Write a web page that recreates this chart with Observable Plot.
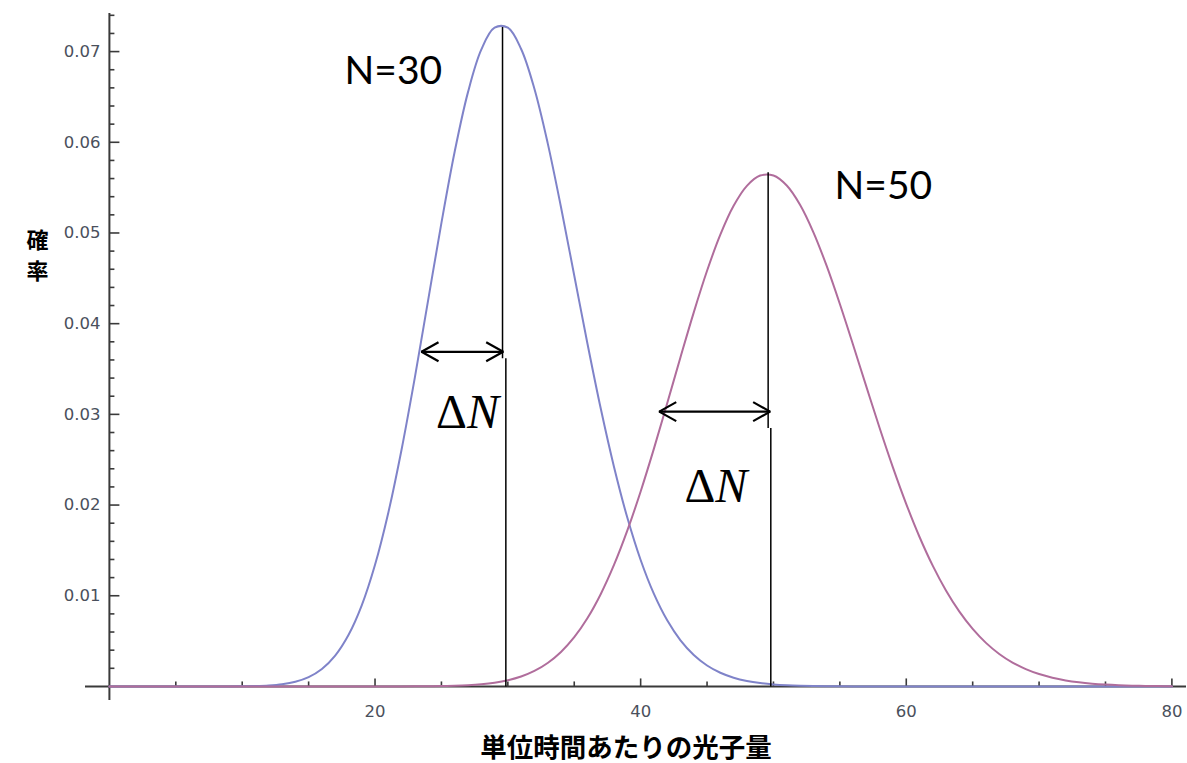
<!DOCTYPE html>
<html><head><meta charset="utf-8">
<script src="https://cdn.jsdelivr.net/npm/d3@7"></script>
<script src="https://cdn.jsdelivr.net/npm/@observablehq/plot@0.6"></script>
<style>body{margin:0;background:#fff} #chart svg{display:block}</style>
</head><body><div id="chart"></div>
<script>
// ---- data ----
const photonCount = d3.range(0, 81); // 単位時間あたりの光子量 (0..80)
const probN30 = [
  0,0,0,0,0,0,0,0,
  0.0000016,0.0000051,0.0000152,0.0000415,0.000104,0.000240,0.000513,0.001027,0.001925,0.003398,0.005663,0.00894,
  0.01341,0.01916,0.02613,0.03408,0.04260,0.05111,0.05898,0.06553,0.07021,0.07263,
  0.07263,0.07029,0.06590,0.05991,0.05286,0.04531,0.03776,0.03061,0.02417,0.01859,
  0.01394,0.01020,0.007288,0.005085,0.003467,0.002311,0.001507,0.000962,0.000601,0.000368,
  0.000221,0.000130,0.0000750,0.0000425,0.0000236,0.0000129,0.0000069,0.0000036,0.0000019,0.0000010,
  0,0,0,0,0,0,0,0,0,0,0,0,0,0,0,0,0,0,0,0,0
];
const probN50 = [
  0,0,0,0,0,0,0,0,0,0,0,0,0,0,0,0,0,0,0,0,
  0.0000008,0.0000018,0.0000041,0.0000089,0.0000185,0.0000370,0.0000711,0.000132,0.000236,0.000406,
  0.000677,0.001092,0.001707,0.002586,0.003803,0.005433,0.007546,0.01020,0.01342,0.01720,
  0.02150,0.02622,0.03122,0.03630,0.04125,0.04583,0.04982,0.05300,0.05520,0.05633,
  0.05633,0.05523,0.05311,0.05010,0.04639,0.04217,0.03765,0.03303,0.02847,0.02413,
  0.02011,0.01648,0.01329,0.01055,0.008242,0.006340,0.004803,0.003584,0.002635,0.001910,
  0.001364,0.000961,0.000667,0.000457,0.000309,0.000206,0.000135,0.0000879,0.0000564,0.0000357,0.0000223
];
const seriesNames = ["N=30", "N=50"];
const seriesColors = ["#7f83c9", "#b06d9c"];
const xTickLabels = [20, 40, 60, 80];
const xMinorTicks = [5, 10, 15, 25, 30, 35, 45, 50, 55, 65, 70, 75];
const yTickLabels = [0.01, 0.02, 0.03, 0.04, 0.05, 0.06, 0.07];
const yMinorTicks = [0.002,0.004,0.006,0.008,0.012,0.014,0.016,0.018,0.022,0.024,0.026,0.028,
  0.032,0.034,0.036,0.038,0.042,0.044,0.046,0.048,0.052,0.054,0.056,0.058,
  0.062,0.064,0.066,0.068,0.072,0.074];
// annotations (data coordinates)
const nLabelX = [17.7, 54.6];
const nLabelY = [0.0664, 0.0538];
const meanUpperX = [29.6, 49.6];
const meanUpperTop = [0.0727, 0.0567];
const meanBreakY = [0.0362, 0.0285];
const meanLowerX = [29.85, 49.8];
const arrowStartX = [23.5, 41.4];
const arrowEndX = [29.65, 49.75];
const arrowY = [0.0369, 0.0303];
const deltaLabelX = [24.6, 43.3];
const deltaLabelY = [0.02845, 0.0203];
const xTitle = "単位時間あたりの光子量";
const yTitleChars = ["確", "率"];
const yTitleY = [0.0491, 0.0457];

// ---- tables ----
const curves = seriesNames.flatMap((name, s) =>
  photonCount.map((x, i) => ({x, y: (s === 0 ? probN30 : probN50)[i], series: name})));
const ann = seriesNames.map((name, i) => ({
  name, lx: nLabelX[i], ly: nLabelY[i],
  ux: meanUpperX[i], uTop: meanUpperTop[i], brk: meanBreakY[i], lx2: meanLowerX[i],
  ax1: arrowStartX[i], ax2: arrowEndX[i], ay: arrowY[i],
  dx: deltaLabelX[i], dy: deltaLabelY[i]
}));
const yTitleRows = yTitleChars.map((c, i) => ({c, y: yTitleY[i]}));

const hTick = (L) => ({draw(ctx) { ctx.moveTo(0, 0); ctx.lineTo(L, 0); }});
const vTick = (L) => ({draw(ctx) { ctx.moveTo(0, 0); ctx.lineTo(0, -L); }});
function arrowHead(color) {
  const m = d3.create("svg:marker")
    .attr("viewBox", "-20 -12 22 24")
    .attr("markerUnits", "userSpaceOnUse")
    .attr("markerWidth", 22).attr("markerHeight", 24)
    .attr("orient", "auto-start-reverse")
    .attr("overflow", "visible");
  m.append("path").attr("d", "M-17,-9.5L0,0L-17,9.5")
    .attr("fill", "none").attr("stroke", color).attr("stroke-width", 2.2);
  return m.node();
}
const axisColor = "#3a3a3a";
const labelColor = "#4a505c";

const chart = Plot.plot({
  width: 1187, height: 763,
  marginLeft: 85, marginRight: 1, marginTop: 13, marginBottom: 63,
  style: {background: "white", overflow: "visible"},
  x: {domain: [-1.8, 81.1], axis: null},
  y: {domain: [-0.00155, 0.0742], axis: null},
  color: {domain: seriesNames, range: seriesColors},
  marks: [
    // axes
    Plot.ruleX([0], {stroke: axisColor, strokeWidth: 2}),
    Plot.ruleY([0], {stroke: axisColor, strokeWidth: 2}),
    Plot.dot(yTickLabels, {x: 0, y: d => d, symbol: hTick(10), fill: "none", stroke: axisColor, strokeWidth: 1.6}),
    Plot.dot(yMinorTicks, {x: 0, y: d => d, symbol: hTick(5), fill: "none", stroke: axisColor, strokeWidth: 1.6}),
    Plot.dot(xTickLabels, {x: d => d, y: 0, symbol: vTick(8), fill: "none", stroke: axisColor, strokeWidth: 1.6}),
    Plot.dot(xMinorTicks, {x: d => d, y: 0, symbol: vTick(5), fill: "none", stroke: axisColor, strokeWidth: 1.6}),
    Plot.text(yTickLabels, {x: 0, y: d => d, text: d => d.toFixed(2), dx: -9, textAnchor: "end", lineAnchor: "middle",
      fontFamily: "DejaVu Sans", fontSize: 16.5, fill: labelColor}),
    Plot.text(xTickLabels, {x: d => d, y: 0, text: d => String(d), dy: 25, textAnchor: "middle", lineAnchor: "middle",
      fontFamily: "DejaVu Sans", fontSize: 16.5, fill: labelColor}),
    // axis titles
    Plot.text([xTitle], {x: 38.9, frameAnchor: "bottom", dy: 48, text: d => d, fontFamily: "Noto Sans CJK JP",
      fontWeight: "bold", fontSize: 26.5, fill: "black", lineAnchor: "middle"}),
    Plot.text(yTitleRows, {y: "y", frameAnchor: "left", dx: -59, text: "c", fontFamily: "Noto Sans CJK JP",
      fontWeight: "bold", fontSize: 22, fill: "black", lineAnchor: "middle"}),
    // curves
    Plot.line(curves, {x: "x", y: "y", z: "series", stroke: "series", strokeWidth: 2, curve: "catmull-rom"}),
    // mean lines
    Plot.link(ann, {x1: "ux", x2: "ux", y1: "uTop", y2: "brk", stroke: "black", strokeWidth: 1.5}),
    Plot.link(ann, {x1: "lx2", x2: "lx2", y1: "brk", y2: () => 0, stroke: "black", strokeWidth: 1.5}),
    // double arrows
    Plot.link(ann, {x1: "ax1", x2: "ax2", y1: "ay", y2: "ay", stroke: "black", strokeWidth: 2.2,
      markerStart: arrowHead, markerEnd: arrowHead}),
    // labels
    Plot.text(ann, {x: "lx", y: "ly", text: "name", textAnchor: "start", lineAnchor: "bottom",
      fontFamily: "Lato", fontSize: 39, fill: "black"}),
    Plot.text(ann, {x: "dx", y: "dy", text: () => "ΔN", textAnchor: "start", lineAnchor: "bottom",
      fontFamily: "Liberation Serif", fontSize: 48, fill: "black"})
  ]
});
chart.querySelectorAll("text").forEach(t => {
  if (t.textContent === "ΔN") {
    t.textContent = "Δ";
    const ts = document.createElementNS("http://www.w3.org/2000/svg", "tspan");
    ts.setAttribute("font-style", "italic");
    ts.textContent = "N";
    t.appendChild(ts);
  }
});
document.getElementById("chart").appendChild(chart);
</script>
</body></html>
